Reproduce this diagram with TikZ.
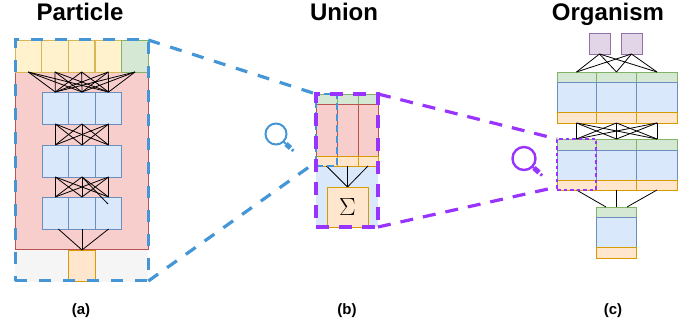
\documentclass[tikz,border=0pt]{standalone}
\usepackage{fontspec}
\setmainfont{Liberation Sans}
\usetikzlibrary{fit,calc}
\definecolor{zoomblue}{HTML}{4596D6}
\definecolor{zoompurple}{HTML}{9933FF}
\definecolor{yellowfill}{HTML}{FFF2CC}
\definecolor{yellowline}{HTML}{D6B656}
\definecolor{greenfill}{HTML}{D5E8D4}
\definecolor{greenline}{HTML}{82B366}
\definecolor{redfill}{HTML}{F8CECC}
\definecolor{redline}{HTML}{B85450}
\definecolor{bluefill}{HTML}{DAE8FC}
\definecolor{blueline}{HTML}{6C8EBF}
\definecolor{orangefill}{HTML}{FFE6CC}
\definecolor{orangeline}{HTML}{D79B00}
\definecolor{purplefill}{HTML}{E1D5E7}
\definecolor{purpleline}{HTML}{9673A6}
\definecolor{greyfill}{HTML}{F5F5F5}
\tikzset{
  cell/.style 2 args={draw, inner sep=0, outer sep=0, line width=0.9pt, minimum width=#1, minimum height=#2},
  yellowcell/.style={draw=yellowline, fill=yellowfill},
  greencell/.style={draw=greenline, fill=greenfill},
  redcell/.style={draw=redline, fill=redfill},
  bluecell/.style={draw=blueline, fill=bluefill},
  orangecell/.style={draw=orangeline, fill=orangefill},
  purplecell/.style={draw=purpleline, fill=purplefill},
  edge/.style={draw=black, line width=0.8pt},
  zoombox/.style={draw=zoomblue, line width=3pt, dash pattern=on 12pt off 12pt, inner sep=0, outer sep=0},
  zoomline/.style={draw=zoomblue, line width=3.2pt, dash pattern=on 12pt off 11pt},
  pickbox/.style={draw=zoompurple, line width=3.2pt, dash pattern=on 13pt off 10pt, inner sep=0, outer sep=0},
  pickline/.style={draw=zoompurple, line width=3.2pt, dash pattern=on 13pt off 10pt},
  titlelabel/.style={font=\fontsize{24}{24}\selectfont\bfseries, inner sep=0, anchor=base},
  sublabel/.style={font=\fontsize{15}{15}\selectfont\bfseries, inner sep=0, anchor=base},
}
\begin{document}
\begin{tikzpicture}[x=1pt, y=-1pt]
  \useasboundingbox (0,0) rectangle (697,328);

  \node[titlelabel] (titleA) at (80,20.5) {Particle};
  \node[titlelabel] (titleB) at (344,20.5) {Union};
  \node[titlelabel] (titleC) at (608,20.5) {Organism};
  \node[sublabel] (labelA) at (81,315) {(a)};
  \node[sublabel] (labelB) at (347,315) {(b)};
  \node[sublabel] (labelC) at (613,315) {(c)};

  % particle
  \node[cell={133pt}{32pt}, fill=greyfill, draw=none] (pgrey) at (81.5,266) {};
  \node[cell={133pt}{177pt}, redcell] (pbody) at (81.5,160.5) {};
  \foreach \n/\cx in {1/28.3, 2/55, 3/81.6, 4/108.3}
    \node[cell={26.6pt}{32pt}, yellowcell] (pin\n) at (\cx,56) {};
  \node[cell={26.6pt}{32pt}, greencell] (pin5) at (135,56) {};
  \foreach \row/\cy in {a/108, b/161, c/213}
    \foreach \n/\cx in {1/55.3, 2/82, 3/108.6}
      \node[cell={26.6pt}{32pt}, bluecell] (p\row\n) at (\cx,\cy) {};
  \node[cell={26.6pt}{31pt}, orangecell] (pout) at (82,265.5) {};

  \foreach \i in {1,...,5}
    \foreach \j in {1,2,3}
      \draw[edge] (pin\i.south) -- (pa\j.north);
  \foreach \i in {1,2,3}
    \foreach \j in {1,2,3} {
      \draw[edge] (pa\i.south) -- (pb\j.north);
      \draw[edge] (pb\i.south) -- (pc\j.north);
    }
  \coordinate (pstray) at (108,204);
  \draw[edge] (pb2.south) -- (pstray);
  \draw[edge] ([xshift=3pt]pc1.south) -- (pout.north);
  \draw[edge] (pc2.south) -- (pout.north);
  \draw[edge] (pc3.south) -- (pout.north);

  % union
  \node[cell={62pt}{61pt}, bluecell, draw=none] (ubody) at (347,196.5) {};
  \foreach \n/\cx/\w in {1/326.5/21, 2/347.5/21, 3/368/20} {
    \node[cell={\w pt}{10pt}, greencell] (ugreen\n) at (\cx,99) {};
    \node[cell={\w pt}{52pt}, redcell] (ured\n) at (\cx,130) {};
    \node[cell={\w pt}{10pt}, orangecell] (uorange\n) at (\cx,161) {};
  }
  \node[cell={41pt}{40pt}, orangecell, font=\fontsize{32}{32}\selectfont] (usum) at (347.5,207) {$\Sigma$};
  \foreach \n in {1,2,3}
    \draw[edge] (uorange\n.south) -- (usum.north);

  % organism
  \foreach \n/\cx in {1/599.5, 2/631.5}
    \node[cell={21pt}{21pt}, purplecell] (oin\n) at (\cx,43.5) {};
  \foreach \n/\cx/\w in {1/576.5/39, 2/616.5/40, 3/657/41} {
    \node[cell={\w pt}{10.5pt}, greencell] (otopg\n) at (\cx,77.25) {};
    \node[cell={\w pt}{30pt}, bluecell] (otopb\n) at (\cx,97.5) {};
    \node[cell={\w pt}{10.5pt}, orangecell] (otopo\n) at (\cx,117.75) {};
    \node[cell={\w pt}{11pt}, greencell] (omidg\n) at (\cx,144.5) {};
    \node[cell={\w pt}{30pt}, bluecell] (omidb\n) at (\cx,165) {};
    \node[cell={\w pt}{10pt}, orangecell] (omido\n) at (\cx,185) {};
  }
  \node[cell={40pt}{10pt}, greencell] (ooutg) at (616.5,212) {};
  \node[cell={40pt}{30.5pt}, bluecell] (ooutb) at (616.5,232.25) {};
  \node[cell={40pt}{10.5pt}, orangecell] (oouto) at (616.5,252.75) {};

  \foreach \i in {1,2}
    \foreach \j in {1,2,3}
      \draw[edge] (oin\i.south) -- (otopg\j.north);
  \foreach \i in {1,2,3}
    \foreach \j in {1,2,3}
      \draw[edge] (otopo\i.south) -- (omidg\j.north);
  \draw[edge] (omido1.south) -- ([xshift=-10.5pt]ooutg.north);
  \draw[edge] (omido2.south) -- (ooutg.north);
  \draw[edge] (omido3.south) -- ([xshift=10.5pt]ooutg.north);

  % zoom from particle to union
  \node[zoombox, fit=(pin1)(pin5)(pout)] (pzoom) {};
  \node[fit=(ugreen1)(uorange1), inner sep=0, outer sep=0, draw=zoomblue, line width=2pt, dash pattern=on 7pt off 4pt] (uzoom) {};
  \coordinate (uzoomlow) at (316,162);
  \draw[zoomline] (pzoom.north east) -- (uzoom.north west);
  \draw[zoomline] (pzoom.south east) -- (uzoomlow);

  % zoom from union to organism
  \node[pickbox, fit=(ugreen1)(ugreen3)(usum)(ubody)] (uwhole) {};
  \node[fit=(omidg1)(omido1), inner sep=0, outer sep=0, draw=zoompurple, line width=2pt, dash pattern=on 3.5pt off 3pt] (ozoom) {};
  \coordinate (ozoomlow) at (557,187);
  \draw[pickline] (uwhole.north east) -- (ozoom.north west);
  \draw[pickline] (uwhole.south east) -- (ozoomlow);

  % magnifiers
  \node[circle, draw=zoomblue, line width=2pt, minimum size=21pt, inner sep=0, outer sep=0] (lensblue) at (276,134) {};
  \coordinate (handleblueA) at (286,144);
  \coordinate (handleblueB) at (290.5,148);
  \coordinate (handleblueC) at (292,149.5);
  \coordinate (handleblueD) at (293.5,151);
  \draw[zoomblue, line width=2pt] (lensblue.south east) -- (handleblueA);
  \draw[zoomblue, line width=5pt] (handleblueA) -- (handleblueB);
  \draw[zoomblue, line width=3pt] (handleblueC) -- (handleblueD);
  \node[circle, draw=zoompurple, line width=2.4pt, minimum size=23pt, inner sep=0, outer sep=0] (lenspurple) at (524,158.5) {};
  \coordinate (handlepurpleA) at (534,168);
  \coordinate (handlepurpleB) at (539,172.5);
  \coordinate (handlepurpleC) at (540.5,174);
  \coordinate (handlepurpleD) at (542,175.5);
  \draw[zoompurple, line width=2pt] (lenspurple.south east) -- (handlepurpleA);
  \draw[zoompurple, line width=5pt] (handlepurpleA) -- (handlepurpleB);
  \draw[zoompurple, line width=3pt] (handlepurpleC) -- (handlepurpleD);
\end{tikzpicture}
\end{document}
